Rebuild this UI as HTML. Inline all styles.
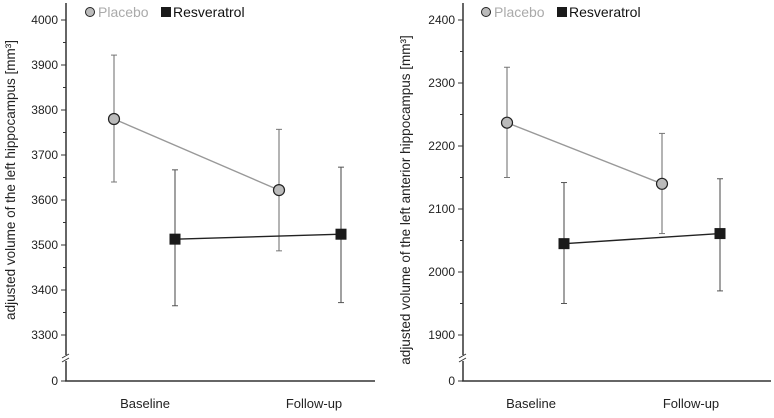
<!DOCTYPE html>
<html><head><meta charset="utf-8"><style>
body{margin:0;background:#fff;width:774px;height:413px;overflow:hidden}
svg{font-family:"Liberation Sans",sans-serif}
</style></head><body>
<svg id="s" width="774" height="413"></svg>
<script>
const categories=["Baseline","Follow-up"];
const leftTicks=[3300,3400,3500,3600,3700,3800,3900,4000];
const leftPlacebo=[3780,3622];
const leftPlaceboLo=[3640,3487];
const leftPlaceboHi=[3922,3757];
const leftResv=[3513,3524];
const leftResvLo=[3365,3372];
const leftResvHi=[3667,3673];
const rightTicks=[1900,2000,2100,2200,2300,2400];
const rightPlacebo=[2237,2140];
const rightPlaceboLo=[2150,2061];
const rightPlaceboHi=[2325,2220];
const rightResv=[2045,2061];
const rightResvLo=[1950,1970];
const rightResvHi=[2142,2148];

const NS="http://www.w3.org/2000/svg";
const svg=document.getElementById('s');
function mk(t,a,p){const e=document.createElementNS(NS,t);for(const k in a)e.setAttribute(k,a[k]);(p||svg).appendChild(e);return e;}

function panel(o){
  const g=mk('g',{});
  
  
  const y=v=>v===0?381:o.yTop+(o.vTop-v)*o.ppu;
  const ax=mk('line',{x1:o.ax,y1:3,x2:o.ax,y2:381,stroke:'#333','stroke-width':1.5},g);
  
  const bx=mk('line',{x1:o.ax-1,y1:381,x2:o.xEnd,y2:381,stroke:'#333','stroke-width':1.5},g);
  
  mk('rect',{x:o.ax-4,y:355,width:8,height:6,fill:'#fff'},g);
  mk('line',{x1:o.ax-4,y1:358,x2:o.ax+3,y2:354,stroke:'#333','stroke-width':1},g);
  mk('line',{x1:o.ax-4,y1:362,x2:o.ax+3,y2:358,stroke:'#333','stroke-width':1},g);
  const ticks=o.ticks;
  const step=ticks[1]-ticks[0];
  for(let i=0;i<ticks.length;i++){
    const ty=y(ticks[i]);
    mk('line',{x1:o.ax-5,y1:ty,x2:o.ax,y2:ty,stroke:'#333'},g);
    const t=mk('text',{x:o.ax-8,y:ty+4,'text-anchor':'end','font-size':12,fill:'#222'},g);
    t.textContent=ticks[i];
    
    const my=y(ticks[i]+step/2);
    if(my>=8) mk('line',{x1:o.ax-3,y1:my,x2:o.ax,y2:my,stroke:'#333'},g);
  }
  mk('line',{x1:o.ax-5,y1:381,x2:o.ax,y2:381,stroke:'#333'},g);
  const z=mk('text',{x:o.ax-8,y:385,'text-anchor':'end','font-size':12,fill:'#222'},g);z.textContent='0';
  categories.forEach((c,i)=>{
    const t=mk('text',{x:o.labX[i],y:408,'text-anchor':'middle','font-size':13,fill:'#222'},g);
    t.textContent=c;
    
  });
  const yt=mk('text',{x:0,y:0,'text-anchor':'middle','font-size':13.5,fill:'#222',transform:`translate(${o.titleX},${o.titleY}) rotate(-90)`},g);
  yt.textContent=o.title;
  
  function series(vals,lo,hi,px,line,eb,shape,nm){
    mk('line',{x1:px[0],y1:y(vals[0]),x2:px[1],y2:y(vals[1]),stroke:line,'stroke-width':1.4},g);
    vals.forEach((v,i)=>{
      mk('line',{x1:px[i],y1:y(lo[i]),x2:px[i],y2:y(hi[i]),stroke:eb,'stroke-width':1.1},g);
      mk('line',{x1:px[i]-3,y1:y(lo[i]),x2:px[i]+3,y2:y(lo[i]),stroke:eb},g);
      mk('line',{x1:px[i]-3,y1:y(hi[i]),x2:px[i]+3,y2:y(hi[i]),stroke:eb},g);
      let m;
      if(shape==='c') m=mk('circle',{cx:px[i],cy:y(v),r:5.5,fill:'#bbb',stroke:'#222','stroke-width':1.2},g);
      else m=mk('rect',{x:px[i]-5.5,y:y(v)-5.5,width:11,height:11,fill:'#1a1a1a'},g);
      
    });
  }
  series(o.p,o.pl,o.ph,o.pX,'#999','#777','c','placebo');
  series(o.r,o.rl,o.rh,o.rX,'#222','#555','s','resveratrol');
  const lc=mk('circle',{cx:o.legX,cy:12,r:4.5,fill:'#bbb',stroke:'#222'},g);
  
  const lt=mk('text',{x:o.legX+8,y:17,'font-size':14,fill:'#aaa'},g);lt.textContent='Placebo';
  
  const ls=mk('rect',{x:o.legX+71,y:7,width:10,height:10,fill:'#1a1a1a'},g);
  
  const lr=mk('text',{x:o.legX+83,y:17,'font-size':14,fill:'#111'},g);lr.textContent='Resveratrol';
  
}
panel({name:'left-panel',ax:66,xEnd:375,yTop:20,vTop:4000,ppu:0.45,ticks:leftTicks,
  labX:[145,314],pX:[114,279],rX:[175,341],titleX:15,titleY:180,
  title:'adjusted volume of the left hippocampus [mm³]',
  p:leftPlacebo,pl:leftPlaceboLo,ph:leftPlaceboHi,r:leftResv,rl:leftResvLo,rh:leftResvHi,legX:90});
panel({name:'right-panel',ax:463,xEnd:771,yTop:20,vTop:2400,ppu:0.63,ticks:rightTicks,
  labX:[531,691],pX:[507,662],rX:[564,720],titleX:410,titleY:200,
  title:'adjusted volume of the left anterior hippocampus [mm³]',
  p:rightPlacebo,pl:rightPlaceboLo,ph:rightPlaceboHi,r:rightResv,rl:rightResvLo,rh:rightResvHi,legX:486});
</script>
</body></html>
